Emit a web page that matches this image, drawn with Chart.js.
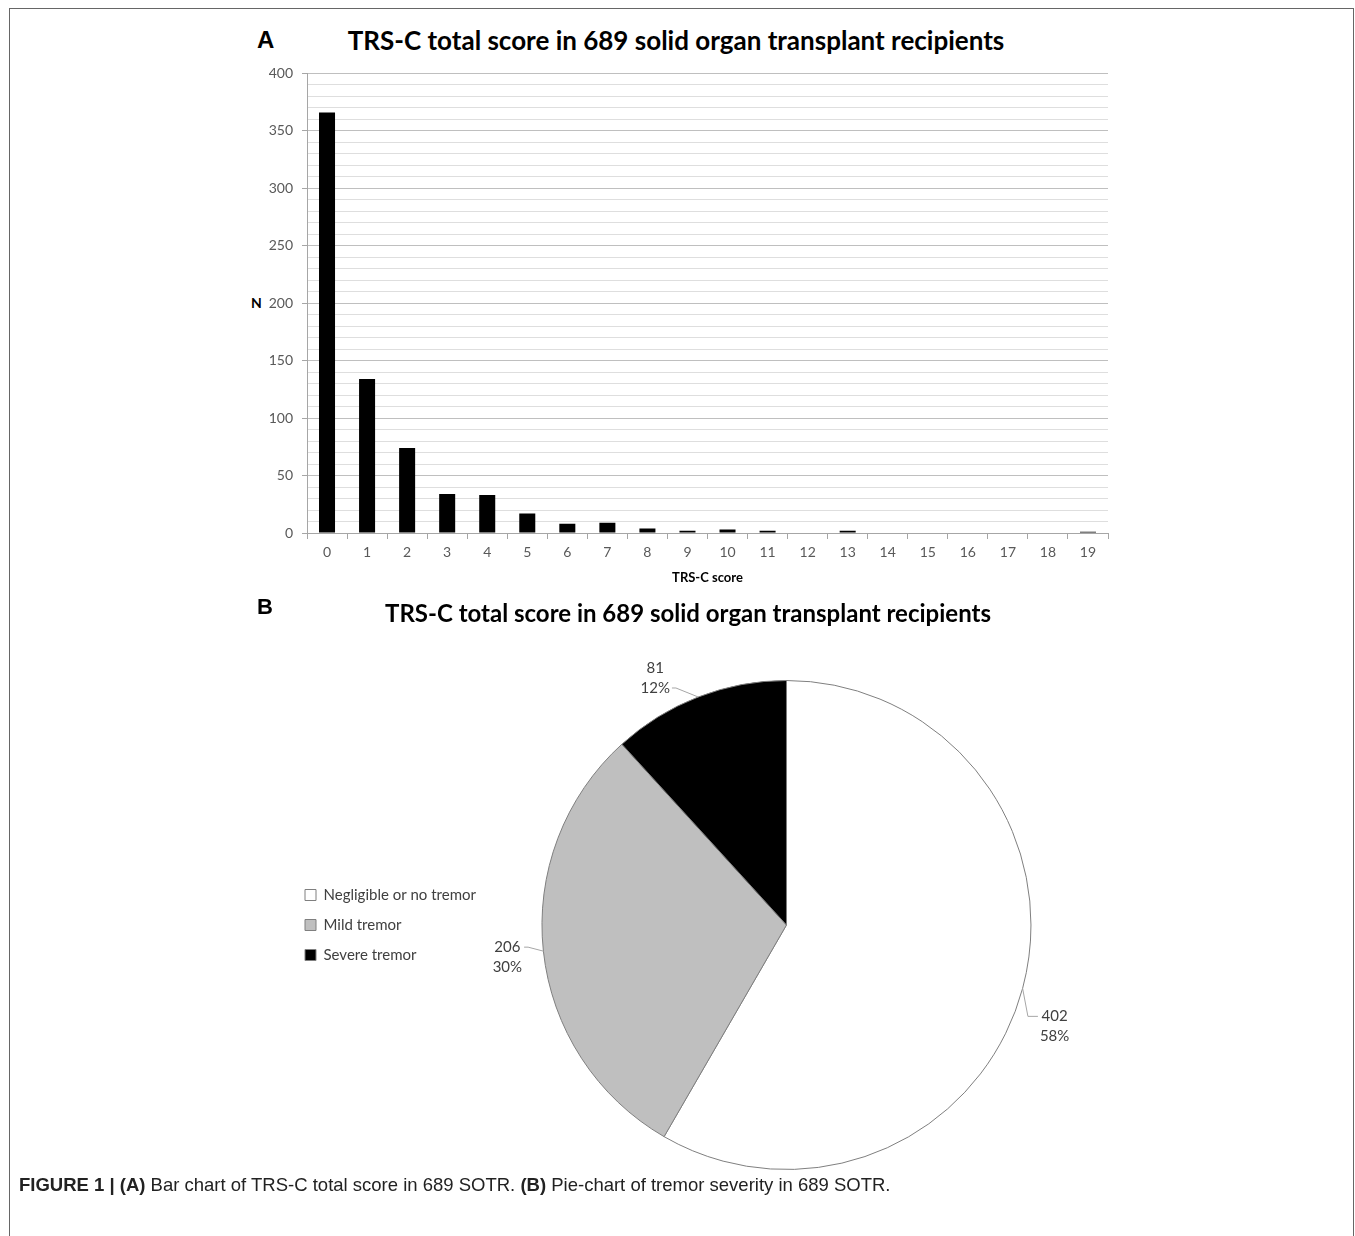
<!DOCTYPE html>
<html>
<head>
<meta charset="utf-8">
<script src="https://cdn.jsdelivr.net/npm/chart.js@4.4.1/dist/chart.umd.min.js"></script>
<style>
  body { margin: 0; background: #fff; width: 1355px; height: 1236px; position: relative; overflow: hidden; }
  .frame { position: absolute; left: 9px; top: 8px; width: 1345px; height: 1240px; border: 1px solid #666; border-bottom: none; box-sizing: border-box; }
  .panel { position: absolute; font: bold 22px "Liberation Sans", Arial, sans-serif; color: #000; }
  .title { position: absolute; font: bold 26px Lato, sans-serif; color: #000; white-space: nowrap; transform: translateX(-50%); }
  .ylab { position: absolute; font: bold 14px Lato, sans-serif; color: #000; }
  .caption { position: absolute; left: 19px; top: 1174px; font: 18.5px "Liberation Sans", Arial, sans-serif; color: #222; white-space: nowrap; }
  #barWrap { position: absolute; left: 240px; top: 56px; width: 900px; height: 544px; }
  #pieWrap { position: absolute; left: 290px; top: 640px; width: 803px; height: 570px; }
</style>
</head>
<body>
<div class="frame"></div>
<div class="panel" style="left:257px; top:26px; font-size:24px;">A</div>
<div class="title" style="left:676px; top:24px;">TRS-C total score in 689 solid organ transplant recipients</div>
<div class="ylab" style="left:251px; top:294px;">N</div>
<div id="barWrap"><canvas id="barChart"></canvas></div>

<div class="panel" style="left:257px; top:594px;">B</div>
<div class="title" style="left:688px; top:598px; font-size:24px;">TRS-C total score in 689 solid organ transplant recipients</div>
<div id="pieWrap"><canvas id="pieChart"></canvas></div>

<div class="caption"><b>FIGURE 1 | (A)</b> Bar chart of TRS-C total score in 689 SOTR. <b>(B)</b> Pie-chart of tremor severity in 689 SOTR.</div>

<script>
// Datos del histograma (puntuación TRS-C)
const scores = ['0', '1', '2', '3', '4', '5', '6', '7', '8', '9', '10', '11', '12', '13', '14', '15', '16', '17', '18', '19'];
const counts = [366, 134, 74, 34, 33, 17, 8, 9, 4, 2, 3, 2, 0, 2, 0, 0, 0, 0, 0, 1];

// Datos del gráfico circular
const severityLabels = ['Negligible or no tremor', 'Mild tremor', 'Severe tremor'];
const severityCounts = [402, 206, 81];
const severityPercents = ['58%', '30%', '12%'];

const yMax = 400;
const yMinorStep = 10;
const yMajorStep = 50;

Chart.defaults.font.family = 'Lato, sans-serif';
Chart.defaults.animation = false;

// Gráfico de barras
new Chart(document.getElementById('barChart'), {
    type: 'bar',
    data: {
        labels: scores,
        datasets: [{
            data: counts,
            backgroundColor: '#000',
            categoryPercentage: 1.0,
            barPercentage: 0.4
        }]
    },
    options: {
        responsive: true,
        maintainAspectRatio: false,
        layout: { padding: { top: 13, right: 32, left: 0, bottom: 0 } },
        plugins: { legend: { display: false }, tooltip: { enabled: false } },
        scales: {
            x: {
                afterFit: function(s) { s.height = 67; },
                grid: { drawOnChartArea: false, tickLength: 6, tickColor: '#a6a6a6', offset: true },
                border: { color: '#a6a6a6' },
                ticks: { color: '#595959', font: { size: 14 }, padding: 5 },
                title: { display: true, text: 'TRS-C score', color: '#000', font: { size: 13, weight: 'bold' }, padding: { top: 2, bottom: 14 } }
            },
            y: {
                min: 0,
                max: yMax,
                afterFit: function(s) { s.width = 67; },
                grid: {
                    tickLength: 5,
                    color: function(c) { return c.tick.value % yMajorStep === 0 ? '#bfbfbf' : '#dedede'; },
                    tickColor: function(c) { return c.tick.value % yMajorStep === 0 ? '#a6a6a6' : 'rgba(0,0,0,0)'; }
                },
                border: { color: '#a6a6a6' },
                ticks: {
                    stepSize: yMinorStep,
                    autoSkip: false,
                    color: '#595959',
                    font: { size: 14 },
                    padding: 9,
                    callback: function(v) { return v % yMajorStep === 0 ? v : ''; }
                }
            }
        }
    }
});

// Etiquetas con líneas guía del gráfico circular
const pieLabelOffsets = [[32, 38], [-36, 6], [-43, -19]];
const pieLabels = {
    id: 'pieLabels',
    afterDatasetsDraw(chart) {
        const ctx = chart.ctx;
        const meta = chart.getDatasetMeta(0);
        ctx.save();
        ctx.font = '15px Lato, sans-serif';
        ctx.fillStyle = '#404040';
        ctx.strokeStyle = '#a6a6a6';
        ctx.lineWidth = 1;
        meta.data.forEach(function(arc, i) {
            const p = arc.getProps(['x', 'y', 'startAngle', 'endAngle', 'outerRadius'], true);
            const mid = (p.startAngle + p.endAngle) / 2;
            const ax = p.x + Math.cos(mid) * p.outerRadius;
            const ay = p.y + Math.sin(mid) * p.outerRadius;
            const lx = ax + pieLabelOffsets[i][0];
            const ly = ay + pieLabelOffsets[i][1];
            const l1 = String(severityCounts[i]);
            const l2 = severityPercents[i];
            const w = Math.max(ctx.measureText(l1).width, ctx.measureText(l2).width);
            ctx.textAlign = 'center';
            ctx.textBaseline = 'middle';
            ctx.fillText(l1, lx, ly - 10);
            ctx.fillText(l2, lx, ly + 10);
            // línea guía
            const right = lx < ax;
            const lineY = right && i === 2 ? ly + 10 : ly - 10;
            const ex = right ? lx + w / 2 + 2 : lx - w / 2 - 2;
            const elbowX = right ? ex + 4 : ex - 10;
            ctx.beginPath();
            ctx.moveTo(ex, lineY);
            ctx.lineTo(elbowX, lineY);
            ctx.lineTo(ax, ay);
            ctx.stroke();
        });
        ctx.restore();
    }
};

// Gráfico circular
new Chart(document.getElementById('pieChart'), {
    type: 'pie',
    data: {
        labels: severityLabels,
        datasets: [{
            data: severityCounts,
            backgroundColor: ['#ffffff', '#bfbfbf', '#000000'],
            borderColor: '#7f7f7f',
            borderWidth: 1
        }]
    },
    options: {
        responsive: true,
        maintainAspectRatio: false,
        layout: { padding: { top: 40, bottom: 40, left: 0, right: 6 } },
        plugins: {
            tooltip: { enabled: false },
            legend: {
                position: 'left',
                labels: {
                    boxWidth: 11,
                    boxHeight: 11,
                    padding: 15,
                    color: '#404040',
                    font: { size: 15 }
                }
            }
        }
    },
    plugins: [pieLabels]
});
</script>
</body>
</html>
